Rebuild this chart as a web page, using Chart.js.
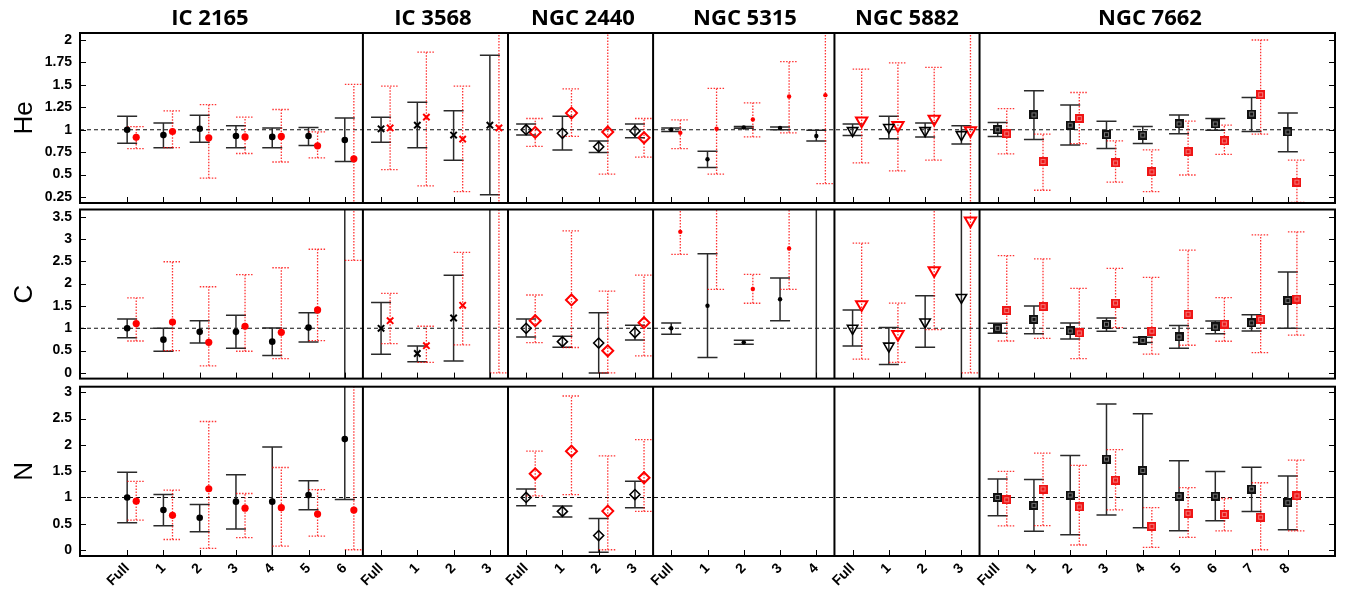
<!DOCTYPE html>
<html><head><meta charset="utf-8">
<script src="https://cdn.jsdelivr.net/npm/chart.js@4.4.1/dist/chart.umd.min.js"></script>
<style>
html,body{margin:0;padding:0;background:#fff;width:1348px;height:590px;overflow:hidden;position:relative}
canvas{position:absolute;left:0}
.gt{position:absolute;top:5px;font:700 22px "Open Sans",sans-serif;line-height:22px;white-space:nowrap;transform:translateX(-50%);color:#000}
</style></head><body>
<canvas id="cHe" width="1348" height="220" style="top:0px"></canvas>
<canvas id="cC" width="1348" height="205" style="top:190px"></canvas>
<canvas id="cN" width="1348" height="220" style="top:370px"></canvas>
<div id="titles"></div>
<script>
// ---------- categories ----------
const groupNames = ['IC 2165','IC 3568','NGC 2440','NGC 5315','NGC 5882','NGC 7662'];
const groupStart = [0,7,11,15,20,24];
const groupSize  = [7,4,4,5,4,9];
const tickLabels = ['Full','1','2','3','4','5','6',
                    'Full','1','2','3',
                    'Full','1','2','3',
                    'Full','1','2','3','4',
                    'Full','1','2','3',
                    'Full','1','2','3','4','5','6','7','8'];
const n=null;
// ---------- He ----------
const heTicks = [0.25,0.5,0.75,1,1.25,1.5,1.75,2];
const heBlackVal = [1.00,0.94,1.01,0.93,0.92,0.93,0.885, 1.01,1.05,0.94,1.05, 1.00,0.96,0.81,0.985, 1.00,0.67,1.025,1.02,0.93, 0.99,1.025,0.99,0.945, 1.00,1.165,1.05,0.945,0.94,1.065,1.065,1.175,0.975];
const heBlackLo  = [0.85,0.80,0.86,0.80,0.80,0.825,0.645, 0.86,0.80,0.66,0.275, 0.94,0.775,0.745,0.91, 0.98,0.58,1.015,1.00,0.875, 0.935,0.90,0.92,0.84, 0.925,0.89,0.83,0.79,0.845,0.955,0.995,0.98,0.755];
const heBlackHi  = [1.15,1.075,1.16,1.045,1.02,1.025,1.13, 1.14,1.305,1.21,1.83, 1.065,1.15,0.875,1.065, 1.02,0.76,1.035,1.03,0.995, 1.065,1.15,1.075,1.045, 1.08,1.435,1.275,1.095,1.035,1.165,1.125,1.36,1.185];
const heRedVal   = [0.915,0.98,0.91,0.92,0.925,0.82,0.675, 1.02,1.14,0.895,1.02, 0.97,1.185,0.975,0.91, 0.965,1.01,1.115,1.37,1.385, 1.10,1.05,1.12,0.99, 0.955,0.645,1.125,0.63,0.53,0.755,0.875,1.39,0.415];
const heRedLo    = [0.79,0.80,0.46,0.735,0.64,0.685,0.0, 0.555,0.375,0.31,0.0, 0.815,0.925,0.505,0.695, 0.79,0.505,0.92,0.965,0.40, 0.63,0.54,0.66,0.0, 0.73,0.325,0.845,0.415,0.31,0.495,0.725,0.95,0.19];
const heRedHi    = [1.035,1.21,1.28,1.14,1.225,0.975,1.505, 1.485,1.865,1.485,2.5, 1.125,1.455,2.5,1.125, 1.11,1.46,1.30,1.76,2.5, 1.675,1.745,1.695,2.5, 1.235,0.95,1.415,0.875,0.775,1.095,1.05,2.0,0.66];
// ---------- C ----------
const cTicks = [0,0.5,1,1.5,2,2.5,3,3.5];
const cBlackVal = [1.00,0.745,0.92,0.92,0.70,1.015,n, 1.00,0.435,1.23,n, 1.00,0.70,0.67,0.905, 1.00,1.505,0.685,1.65,n, 1.00,0.60,1.14,1.69, 1.00,1.20,0.94,1.09,0.73,0.805,1.03,1.12,1.62];
const cBlackLo  = [0.79,0.485,0.67,0.555,0.39,0.695,-1, 0.42,0.25,0.265,-1, 0.805,0.575,0.0,0.74, 0.865,0.345,0.645,1.17,-1, 0.605,0.19,0.575,-1, 0.89,0.88,0.76,0.935,0.68,0.555,0.875,0.94,1.00];
const cBlackHi  = [1.21,1.00,1.17,1.29,1.005,1.345,5, 1.58,0.605,2.19,5, 1.21,0.82,1.35,1.065, 1.12,2.67,0.73,2.125,5, 1.41,1.02,1.73,5, 1.11,1.50,1.12,1.23,0.80,1.06,1.165,1.305,2.26];
const cRedVal   = [1.105,1.14,0.685,1.045,0.91,1.41,n, 1.17,0.61,1.515,n, 1.17,1.635,0.495,1.125, 3.16,n,1.88,2.785,n, 1.535,0.865,2.295,3.41, 1.40,1.485,0.895,1.565,0.935,1.315,1.095,1.20,1.655];
const cRedLo    = [0.715,0.50,0.16,0.485,0.32,0.725,2.52, 0.655,0.235,0.63,0.0, 0.68,0.57,0.0,0.38, 2.655,1.87,1.56,1.87,n, 0.31,0.235,0.97,0.0, 0.715,0.775,0.32,1.015,0.42,0.62,0.71,0.455,0.845];
const cRedHi    = [1.68,2.49,1.93,2.20,2.355,2.77,5, 1.78,1.045,2.70,5, 1.745,3.18,1.83,2.19, 5,5,2.205,5,n, 2.905,1.565,5,5, 2.625,2.555,1.895,2.34,2.14,2.75,1.685,3.09,3.16];
// ---------- N ----------
const nTicks = [0,0.5,1,1.5,2,2.5,3];
const nBlackVal = [1.00,0.76,0.615,0.92,0.92,1.045,2.11, n,n,n,n, 1.00,0.735,0.275,1.055, n,n,n,n,n, n,n,n,n, 1.00,0.85,1.045,1.73,1.515,1.025,1.025,1.16,0.90];
const nBlackLo  = [0.52,0.46,0.345,0.40,-1,0.765,0.96, n,n,n,n, 0.84,0.63,-0.045,0.805, n,n,n,n,n, n,n,n,n, 0.65,0.355,0.29,0.665,0.425,0.365,0.555,0.735,0.385];
const nBlackHi  = [1.48,1.055,0.865,1.43,1.96,1.32,5, n,n,n,n, 1.16,0.835,0.60,1.31, n,n,n,n,n, n,n,n,n, 1.35,1.34,1.80,2.78,2.59,1.70,1.495,1.575,1.41];
const nRedVal   = [0.93,0.66,1.165,0.795,0.805,0.685,0.76, n,n,n,n, 1.45,1.88,0.74,1.375, n,n,n,n,n, n,n,n,n, 0.955,1.16,0.82,1.33,0.45,0.70,0.675,0.625,1.03];
const nRedLo    = [0.57,0.20,0.03,0.235,0.075,0.265,0.005, n,n,n,n, 1.03,1.055,0.005,0.735, n,n,n,n,n, n,n,n,n, 0.46,0.465,0.095,0.765,0.05,0.24,0.365,0.005,0.365];
const nRedHi    = [1.305,1.14,2.445,1.075,1.57,1.15,5, n,n,n,n, 1.88,2.93,1.79,2.10, n,n,n,n,n, n,n,n,n, 1.495,1.845,1.61,1.91,0.805,1.185,0.98,1.28,1.71];

// ---------- styling ----------
const BLACK='#000000', RED='#ff0000';
const RED_OFF = 0.25;
const X_MIN=-1.3, X_MAX=33.3;

function squareImg(col){
  const c=document.createElement('canvas'); c.width=9;c.height=9;
  const g=c.getContext('2d'); g.fillStyle=col; g.fillRect(0,0,9,9);
  g.strokeStyle='rgba(255,255,255,0.85)'; g.lineWidth=1; g.setLineDash([1,1]);
  g.strokeRect(2.5,2.5,4,4);
  return c;
}
const SQ_K=squareImg('#111'), SQ_R=squareImg('#ee1515');

function styleFor(g, red){
  const col = red?RED:BLACK;
  switch(g){
    case 0: return {pointStyle:'circle',pointRadius:red?3.6:3.3,pointBorderWidth:0,pointBackgroundColor:col,pointBorderColor:col};
    case 1: return {pointStyle:'crossRot',pointRadius:4.5,pointBorderWidth:2,pointBackgroundColor:col,pointBorderColor:col};
    case 2: return {pointStyle:'rectRot',pointRadius:red?5.5:5,pointBorderWidth:red?2:1.6,pointBackgroundColor:'rgba(255,255,255,0)',pointBorderColor:col};
    case 3: return {pointStyle:'circle',pointRadius:2.2,pointBorderWidth:0,pointBackgroundColor:col,pointBorderColor:col};
    case 4: return {pointStyle:'triangle',pointRotation:180,pointRadius:red?6.5:6,pointBorderWidth:red?2:1.6,pointBackgroundColor:'rgba(255,255,255,0)',pointBorderColor:col};
    default: return {pointStyle:red?SQ_R:SQ_K,pointRadius:5,pointBorderWidth:0};
  }
}

function buildDatasets(kv, rv){
  const ds=[];
  for(let g=0;g<groupNames.length;g++){
    for(const red of [false,true]){
      const vals = red?rv:kv; const data=[];
      for(let j=0;j<groupSize[g];j++){
        const i=groupStart[g]+j;
        if(vals[i]!=null) data.push({x:i+(red?RED_OFF:0), y:vals[i]});
      }
      ds.push(Object.assign({data, showLine:false, pointHoverRadius:0}, styleFor(g,red)));
    }
  }
  return ds;
}

function makeChart(id, title, yMin, yMax, yTicks, arr, opts){
  const [kv,klo,khi,rv,rlo,rhi]=arr;
  const errPlugin={
    id:'err'+id,
    beforeDatasetsDraw(chart){
      const {ctx, chartArea:a, scales:{x,y}}=chart;
      ctx.save();
      ctx.beginPath(); ctx.rect(a.left,a.top,a.right-a.left,a.bottom-a.top); ctx.clip();
      // reference line at 1
      const y1=y.getPixelForValue(1);
      ctx.strokeStyle='#111'; ctx.lineWidth=1.1; ctx.setLineDash([4,3]);
      ctx.beginPath(); ctx.moveTo(a.left,y1); ctx.lineTo(a.right,y1); ctx.stroke();
      for(let i=0;i<tickLabels.length;i++){
        if(klo[i]!=null && khi[i]!=null){
          const px=x.getPixelForValue(i), pl=y.getPixelForValue(klo[i]), ph=y.getPixelForValue(khi[i]);
          ctx.setLineDash([]); ctx.strokeStyle='#2a2a2a'; ctx.lineWidth=1.5;
          ctx.beginPath();
          ctx.moveTo(px,pl); ctx.lineTo(px,ph);
          ctx.moveTo(px-10,pl); ctx.lineTo(px+10,pl);
          ctx.moveTo(px-10,ph); ctx.lineTo(px+10,ph);
          ctx.stroke();
        }
        if(rlo[i]!=null && rhi[i]!=null){
          const px=x.getPixelForValue(i+RED_OFF), pl=y.getPixelForValue(rlo[i]), ph=y.getPixelForValue(rhi[i]);
          ctx.setLineDash([1.5,1.5]); ctx.strokeStyle='rgba(255,0,0,0.8)'; ctx.lineWidth=1.3;
          ctx.beginPath();
          ctx.moveTo(px,pl); ctx.lineTo(px,ph);
          ctx.moveTo(px-9,pl); ctx.lineTo(px+9,pl);
          ctx.moveTo(px-9,ph); ctx.lineTo(px+9,ph);
          ctx.stroke();
        }
      }
      ctx.restore();
    },
    afterDraw(chart){
      const {ctx, chartArea:a, scales:{x,y}}=chart;
      ctx.save(); ctx.setLineDash([]); ctx.strokeStyle='#000'; ctx.lineWidth=1;
      ctx.beginPath();
      for(let i=0;i<tickLabels.length;i++){
        const px=Math.round(x.getPixelForValue(i))+0.5;
        ctx.moveTo(px,a.bottom); ctx.lineTo(px,a.bottom-6);
      }
      for(const v of yTicks){
        const py=Math.round(y.getPixelForValue(v))+0.5;
        ctx.moveTo(a.left,py); ctx.lineTo(a.left+6,py);
        ctx.moveTo(a.right,py); ctx.lineTo(a.right-6,py);
      }
      ctx.stroke();
      ctx.lineWidth=2; ctx.beginPath();
      for(let g=1;g<groupStart.length;g++){
        const px=x.getPixelForValue(groupStart[g]-0.5);
        ctx.moveTo(px,a.top); ctx.lineTo(px,a.bottom);
      }
      ctx.stroke();
      ctx.strokeRect(a.left,a.top,a.right-a.left,a.bottom-a.top);
      ctx.restore();
    }
  };
  return new Chart(document.getElementById(id),{
    type:'scatter',
    data:{datasets:buildDatasets(kv,rv)},
    options:{
      responsive:false, animation:false, events:[],
      layout:{padding:opts.padding},
      plugins:{legend:{display:false},tooltip:{enabled:false}},
      scales:{
        x:{type:'linear',min:X_MIN,max:X_MAX,display:!!opts.showX,
           grid:{display:false,drawTicks:false},border:{display:false},
           afterBuildTicks:s=>{s.ticks=tickLabels.map((_,i)=>({value:i}));},
           afterFit:s=>{ if(opts.showX) s.height=34; },
           ticks:{autoSkip:false,minRotation:45,maxRotation:45,padding:4,color:'#000',
                  font:{family:'Liberation Sans',size:14,weight:'bold'},
                  callback:v=>tickLabels[Math.round(v)]}},
        y:{type:'linear',min:yMin,max:yMax,
           grid:{display:false,drawTicks:false},border:{display:false},
           afterBuildTicks:s=>{s.ticks=yTicks.map(v=>({value:v}));},
           afterFit:s=>{s.width=80;},
           title:{display:true,text:title,color:'#000',padding:{top:9,bottom:0},
                  font:{family:'Liberation Sans',size:26,weight:'normal'}},
           ticks:{autoSkip:false,padding:8,color:'#000',font:{family:'Liberation Sans',size:14,weight:'bold'},
                  callback:v=>String(v)}}
      }
    },
    plugins:[errPlugin]
  });
}

makeChart('cHe','He',0.183,2.078,heTicks,[heBlackVal,heBlackLo,heBlackHi,heRedVal,heRedLo,heRedHi],
  {padding:{top:33,bottom:17,left:0,right:13}});
makeChart('cC','C',-0.127,3.66,cTicks,[cBlackVal,cBlackLo,cBlackHi,cRedVal,cRedLo,cRedHi],
  {padding:{top:19.5,bottom:16,left:0,right:13}});
makeChart('cN','N',-0.114,3.107,nTicks,[nBlackVal,nBlackLo,nBlackHi,nRedVal,nRedLo,nRedHi],
  {padding:{top:16.7,bottom:0,left:0,right:13},showX:true});

// group titles
const titleX=[210,433,583,745,907,1150];
const tdiv=document.getElementById('titles');
groupNames.forEach((t,i)=>{const d=document.createElement('div');d.className='gt';d.style.left=titleX[i]+'px';d.textContent=t;tdiv.appendChild(d);});
</script>
</body></html>
